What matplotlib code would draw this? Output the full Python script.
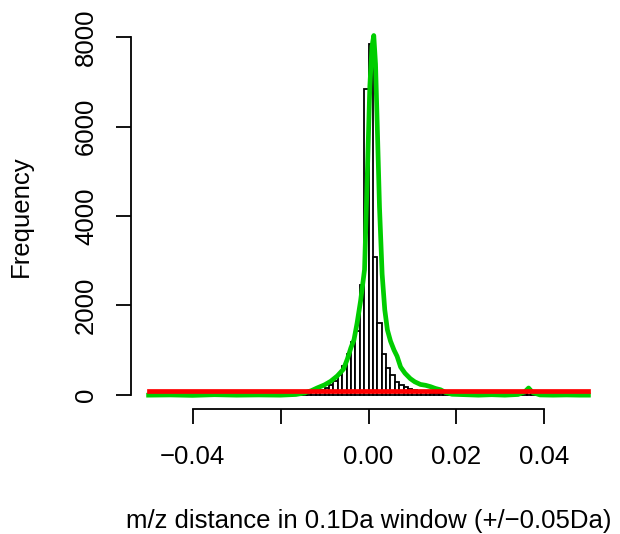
"""
Histogram of m/z distances in a 0.1 Da window, with a fitted curve (green)
and a flat noise level (red). R base-graphics look.
"""

import matplotlib
matplotlib.use("Agg")
import matplotlib.pyplot as plt
import numpy as np

# ── Data ──────────────────────────────────────────────────────────────────────
BIN_START = -0.05
BIN_WIDTH = 0.001

# counts per 0.001 bin, from -0.050 to 0.050 (100 bins)
counts_left_tail = [18, 22, 15, 20, 25, 19, 17, 23, 21, 16,
                    20, 24, 18, 22, 19, 25, 21, 17, 23, 20,
                    26, 22, 19, 24, 28, 21, 25, 30, 27, 24,
                    29, 33, 31, 36, 40]
counts_centre = [42, 50, 62, 80, 110, 160, 220, 300, 450, 640,
                 920, 1180, 1430, 2450, 6850, 7840, 3090, 1600, 900, 600,
                 430, 290, 210, 180, 120, 95, 75, 60, 50, 42,
                 38]
counts_right_tail = [35, 32, 30, 28, 31, 27, 25, 29, 26, 24,
                     27, 23, 25, 22, 26, 24, 21, 25, 28, 45,
                     130, 50, 26, 22, 20, 24, 19, 21, 18, 22,
                     20, 17, 19, 16]
counts = counts_left_tail + counts_centre + counts_right_tail

# green curve
curve_x = [-0.0500, -0.045, -0.040, -0.035, -0.030, -0.025, -0.020, -0.0165,
           -0.0145, -0.0130, -0.0117, -0.0100, -0.0086, -0.0071, -0.0057,
           -0.0048, -0.0040, -0.0033, -0.0026, -0.0018, -0.0009, -0.0003,
           0.0003, 0.0008, 0.0012, 0.0016, 0.0020, 0.0025, 0.0031, 0.0037,
           0.0043, 0.0050, 0.0058, 0.0065, 0.0073, 0.0083, 0.0095, 0.0105,
           0.0118, 0.0130, 0.0141, 0.0152, 0.0164, 0.0175, 0.0190, 0.022,
           0.025, 0.028, 0.031, 0.034, 0.0355, 0.0364, 0.0373, 0.039, 0.042,
           0.045, 0.048, 0.050]
curve_y = [-10, -5, -15, 0, -10, -5, -10, 5,
           40, 90, 150, 220, 300, 420, 570,
           800, 1050, 1230, 1600, 2100, 2800, 4800,
           6900, 7800, 8040, 7400, 6000, 4200, 2700, 1900,
           1450, 1200, 1000, 860, 620, 480, 360, 290,
           230, 210, 180, 140, 110, 50, 10, 0,
           -10, 0, -10, 5, 60, 150, 50, -5, -10,
           -5, -10, -10]

# red flat level
level_x = [-0.05, 0.05]
level_y = [80, 80]

x_ticks = [-0.04, -0.02, 0.0, 0.02, 0.04]
x_tick_labels = ["\u22120.04", "", "0.00", "0.02", "0.04"]
y_ticks = [0, 2000, 4000, 6000, 8000]

# ── Plot ──────────────────────────────────────────────────────────────────────
plt.rcParams["font.family"] = ["Liberation Sans", "DejaVu Sans"]

fig = plt.figure(figsize=(6.2, 5.34), dpi=100)
ax = fig.add_axes([131 / 620, 1 - 409 / 534, 475 / 620, 386 / 534])

lefts = BIN_START + BIN_WIDTH * np.arange(len(counts))
ax.bar(lefts, counts, width=BIN_WIDTH, align="edge", facecolor="white",
       edgecolor="black", linewidth=1.3, zorder=1)
ax.plot(curve_x, curve_y, color="#00CD00", lw=3.4, zorder=2,
        solid_joinstyle="round")
ax.plot(level_x, level_y, color="#FF0000", lw=3.4, zorder=3)

ax.set_xlim(-0.054, 0.054)
ax.set_ylim(-320, 8320)

for s in ("top", "right"):
    ax.spines[s].set_visible(False)
ax.spines["left"].set_bounds(0, 8000)
ax.spines["bottom"].set_bounds(-0.04, 0.04)
for s in ("left", "bottom"):
    ax.spines[s].set_linewidth(1.3)

ax.set_xticks(x_ticks)
ax.set_xticklabels(x_tick_labels)
ax.set_yticks(y_ticks)
ax.set_yticklabels([str(v) for v in y_ticks], rotation=90, va="center")
ax.tick_params(axis="both", direction="out", length=10.8, width=1.3,
               labelsize=18.5)
ax.tick_params(axis="x", pad=15)
ax.tick_params(axis="y", pad=13)

ax.set_xlabel("m/z distance in 0.1Da window (+/\u22120.05Da)", fontsize=18.5,
              va="center")
ax.xaxis.set_label_coords(0.5, (409 - 521) / 386)
ax.set_ylabel("Frequency", fontsize=18.5, va="center")
ax.yaxis.set_label_coords((21 - 131) / 475, 0.5)

fig.savefig("out.png", dpi=100, facecolor="white")
